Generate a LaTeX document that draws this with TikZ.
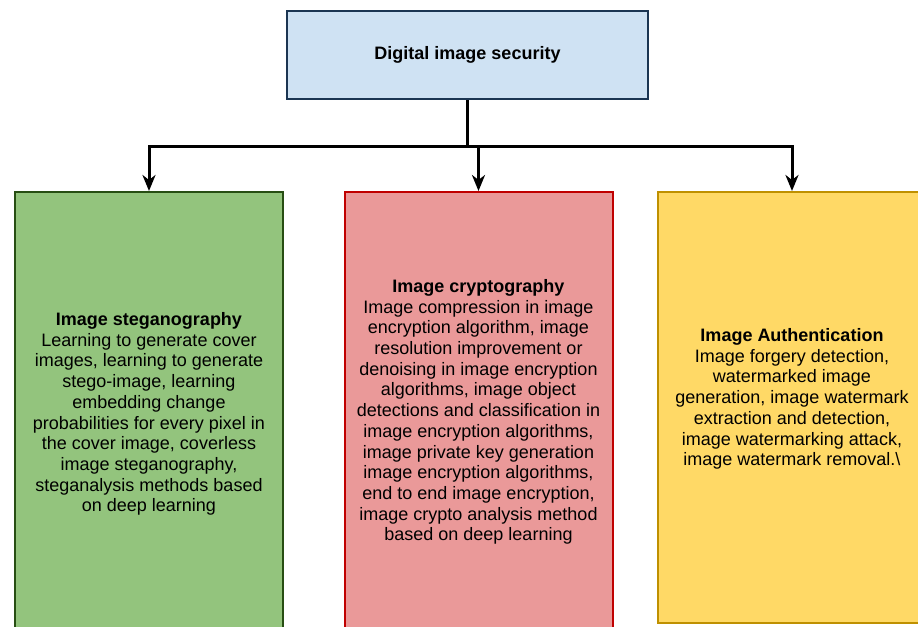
\documentclass[tikz,border=0pt]{standalone}
\usepackage{fontspec}
\setmainfont{Liberation Sans}
\usetikzlibrary{arrows.meta}

\definecolor{topfill}{HTML}{CFE2F3}
\definecolor{topdraw}{HTML}{1B3552}
\definecolor{stegfill}{HTML}{93C47D}
\definecolor{stegdraw}{HTML}{274E13}
\definecolor{cryptfill}{HTML}{EA9999}
\definecolor{cryptdraw}{HTML}{C00000}
\definecolor{authfill}{HTML}{FFD966}
\definecolor{authdraw}{HTML}{BF9000}

\begin{document}
\begin{tikzpicture}[x=0.5pt, y=-0.5pt]

\tikzset{box/.style = {shape=rectangle, draw, line width=1pt, align=center, inner sep=0pt,
  font=\fontsize{9}{10.35}\selectfont}}
\tikzset{branch/.style = {box, minimum width=134pt, minimum height=220pt}}
\tikzset{edge/.style = {line width=1.5pt, -{Stealth[length=8pt, width=6.5pt, inset=2.5pt]}}}

\useasboundingbox (0,0) rectangle (918,627);
\clip (0,0) rectangle (918,627);

%boxes
\node[box, fill=topfill, draw=topdraw, line width=1.25pt, minimum width=180.5pt, minimum height=44pt] (top) at (467.5,55) {\textbf{Digital image security}};
\node[branch, fill=stegfill, draw=stegdraw, minimum height=222pt] (steg) at (149,414) {\textbf{Image steganography}\\
Learning to generate cover\\
images, learning to generate\\
stego-image, learning\\
embedding change\\
probabilities for every pixel in\\
the cover image, coverless\\
image steganography,\\
steganalysis methods based\\
on deep learning};
\node[branch, fill=cryptfill, draw=cryptdraw] (crypt) at (478.5,412) {\textbf{Image cryptography}\\
Image compression in image\\
encryption algorithm, image\\
resolution improvement or\\
denoising in image encryption\\
algorithms, image object\\
detections and classification in\\
image encryption algorithms,\\
image private key generation\\
image encryption algorithms,\\
end to end image encryption,\\
image crypto analysis method\\
based on deep learning};
\node[branch, fill=authfill, draw=authdraw, minimum height=215.5pt] (auth) at (792,407.5) {\textbf{Image Authentication}\\
Image forgery detection,\\
watermarked image\\
generation, image watermark\\
extraction and detection,\\
image watermarking attack,\\
image watermark removal.\textbackslash\\[0pt]};

%connectors
\coordinate (hub) at (467.5,146);
\draw [line width=1.5pt] (top) -- (hub);
\draw [edge] (hub) -| (steg.north);
\draw [edge] (hub) -| (crypt.north);
\draw [edge] (hub) -| (auth.north);

\end{tikzpicture}
\end{document}
